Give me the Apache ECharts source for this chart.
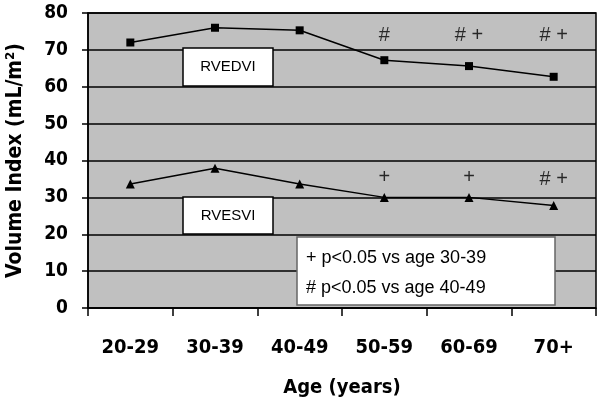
<!DOCTYPE html>
<html>
<head>
<meta charset="utf-8">
<script src="https://cdn.jsdelivr.net/npm/echarts@6/dist/echarts.min.js"></script>
<style>html,body{margin:0;padding:0;background:#fff}#c{width:600px;height:401px}</style>
</head>
<body>
<div id="c"></div>
<script>
var categories = ['20-29', '30-39', '40-49', '50-59', '60-69', '70+'];
var rvedvi = [72, 76, 75.3, 67.2, 65.6, 62.7];
var rvesvi = [33.6, 37.9, 33.6, 30, 30, 27.8];
var annotTop = [['50-59', 74, '#'], ['60-69', 74, '# +'], ['70+', 74, '# +']];
var annotBottom = [['50-59', 35.5, '+'], ['60-69', 35.5, '+'], ['70+', 34.8, '# +']];
var yTicks = [0, 80, 10];

var boldFont = '"DejaVu Sans Condensed", "DejaVu Sans", sans-serif';
var chart = echarts.init(document.getElementById('c'));
function annotSeries(data) {
  return {
    type: 'scatter', data: data, symbolSize: 0, silent: true, z: 5,
    label: { show: true, position: 'inside', formatter: function (p) { return p.data[2]; },
      color: '#000', fontSize: 20, fontFamily: '"Liberation Sans", Arial, sans-serif' }
  };
}
chart.setOption({
  animation: false,
  backgroundColor: '#fff',
  grid: { left: 88, right: 4, top: 13, bottom: 93, outerBoundsMode: 'none', containLabel: false,
    show: true, backgroundColor: '#c0c0c0', borderColor: '#000', borderWidth: 1.5 },
  xAxis: {
    type: 'category', data: categories, boundaryGap: true,
    name: 'Age (years)', nameLocation: 'middle', nameGap: 70,
    nameTextStyle: { fontSize: 20, fontWeight: 'bold', fontFamily: boldFont, color: '#000' },
    axisLine: { lineStyle: { color: '#000', width: 1.5 } },
    axisTick: { show: true, inside: false, length: 8, interval: 0, lineStyle: { color: '#000', width: 1.5 } },
    axisLabel: { margin: 30, fontSize: 20, fontWeight: 'bold', fontFamily: boldFont, color: '#000' },
    splitLine: { show: false }
  },
  yAxis: {
    type: 'value', min: yTicks[0], max: yTicks[1], interval: yTicks[2],
    name: 'Volume Index (mL/m\u00b2)', nameLocation: 'middle', nameGap: 62, nameRotate: 90,
    nameTextStyle: { fontSize: 21, fontWeight: 'bold', fontFamily: boldFont, color: '#000' },
    axisLine: { show: true, lineStyle: { color: '#000', width: 1.5 } },
    axisTick: { show: true, inside: false, length: 6, lineStyle: { color: '#000', width: 1.5 } },
    axisLabel: { margin: 20, fontSize: 19, fontWeight: 'bold', fontFamily: boldFont, color: '#000' },
    splitLine: { show: true, lineStyle: { color: '#000', width: 1.5 } }
  },
  series: [
    { type: 'line', data: rvedvi, symbol: 'rect', symbolSize: 8, z: 3,
      lineStyle: { color: '#000', width: 1.5 }, itemStyle: { color: '#000' } },
    { type: 'line', data: rvesvi, symbol: 'triangle', symbolSize: 9, z: 3,
      lineStyle: { color: '#000', width: 1.5 }, itemStyle: { color: '#000' } },
    annotSeries(annotTop),
    annotSeries(annotBottom)
  ],
  graphic: [
    { type: 'rect', shape: { x: 183, y: 48, width: 90, height: 38 }, z: 10,
      style: { fill: '#fff', stroke: '#000', lineWidth: 1.5 } },
    { type: 'text', x: 228, y: 67, z: 11,
      style: { text: 'RVEDVI', fontSize: 15, fontFamily: '"Liberation Sans", Arial, sans-serif', fill: '#000', align: 'center', verticalAlign: 'middle' } },
    { type: 'rect', shape: { x: 183, y: 197, width: 90, height: 37 }, z: 10,
      style: { fill: '#fff', stroke: '#000', lineWidth: 1.5 } },
    { type: 'text', x: 228, y: 216, z: 11,
      style: { text: 'RVESVI', fontSize: 15, fontFamily: '"Liberation Sans", Arial, sans-serif', fill: '#000', align: 'center', verticalAlign: 'middle' } },
    { type: 'rect', shape: { x: 297, y: 237, width: 258, height: 68 }, z: 10,
      style: { fill: '#fff', stroke: '#666', lineWidth: 1.5 } },
    { type: 'text', x: 306, y: 258, z: 11,
      style: { text: '+ p<0.05 vs age 30-39', fontSize: 18, fontFamily: '"Liberation Sans", Arial, sans-serif', fill: '#000', align: 'left', verticalAlign: 'middle' } },
    { type: 'text', x: 306, y: 288, z: 11,
      style: { text: '# p<0.05 vs age 40-49', fontSize: 18, fontFamily: '"Liberation Sans", Arial, sans-serif', fill: '#000', align: 'left', verticalAlign: 'middle' } }
  ]
});
</script>
</body>
</html>
